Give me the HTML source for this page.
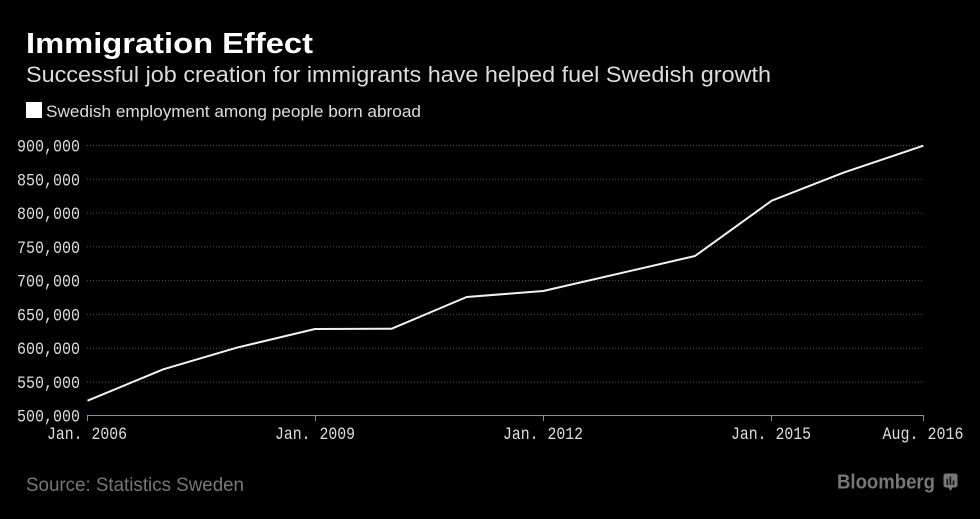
<!DOCTYPE html>
<html><head><meta charset="utf-8"><style>
html,body{margin:0;padding:0;background:#000;}
svg{display:block;}
</style></head><body>
<svg width="980" height="519" viewBox="0 0 980 519" xmlns="http://www.w3.org/2000/svg">
<rect width="980" height="519" fill="#000"/>
<text x="26" y="53" font-family="Liberation Sans, sans-serif" font-weight="bold" font-size="29" fill="#fff" textLength="287" lengthAdjust="spacingAndGlyphs">Immigration Effect</text>
<text x="26" y="82" font-family="Liberation Sans, sans-serif" font-size="22" fill="#ddd" textLength="745" lengthAdjust="spacingAndGlyphs">Successful job creation for immigrants have helped fuel Swedish growth</text>
<rect x="26" y="102" width="16" height="16" fill="#fff"/>
<text x="46" y="117" font-family="Liberation Sans, sans-serif" font-size="16.5" fill="#ddd" textLength="375" lengthAdjust="spacingAndGlyphs">Swedish employment among people born abroad</text>
<g stroke="#555" stroke-width="1" stroke-dasharray="1,2">
<line x1="87" y1="145.5" x2="923" y2="145.5"/>
<line x1="87" y1="179.3" x2="923" y2="179.3"/>
<line x1="87" y1="213.1" x2="923" y2="213.1"/>
<line x1="87" y1="246.8" x2="923" y2="246.8"/>
<line x1="87" y1="280.6" x2="923" y2="280.6"/>
<line x1="87" y1="314.4" x2="923" y2="314.4"/>
<line x1="87" y1="348.2" x2="923" y2="348.2"/>
<line x1="87" y1="382" x2="923" y2="382"/>
</g>
<g font-family="Liberation Mono, monospace" font-size="17.5" fill="#ddd" text-anchor="end">
<text x="80" y="151.5" textLength="63" lengthAdjust="spacingAndGlyphs">900,000</text>
<text x="80" y="185.3" textLength="63" lengthAdjust="spacingAndGlyphs">850,000</text>
<text x="80" y="219.1" textLength="63" lengthAdjust="spacingAndGlyphs">800,000</text>
<text x="80" y="252.8" textLength="63" lengthAdjust="spacingAndGlyphs">750,000</text>
<text x="80" y="286.6" textLength="63" lengthAdjust="spacingAndGlyphs">700,000</text>
<text x="80" y="320.4" textLength="63" lengthAdjust="spacingAndGlyphs">650,000</text>
<text x="80" y="354.2" textLength="63" lengthAdjust="spacingAndGlyphs">600,000</text>
<text x="80" y="388" textLength="63" lengthAdjust="spacingAndGlyphs">550,000</text>
<text x="80" y="421.5" textLength="63" lengthAdjust="spacingAndGlyphs">500,000</text>
</g>
<g stroke="#8a909a" stroke-width="1">
<line x1="87.5" y1="415.5" x2="923.5" y2="415.5"/>
<line x1="87.5" y1="415" x2="87.5" y2="421"/>
<line x1="315.5" y1="415" x2="315.5" y2="421"/>
<line x1="543.5" y1="415" x2="543.5" y2="421"/>
<line x1="771.5" y1="415" x2="771.5" y2="421"/>
<line x1="923.5" y1="415" x2="923.5" y2="421"/>
</g>
<g font-family="Liberation Mono, monospace" font-size="17.5" fill="#ddd" text-anchor="middle">
<text x="87" y="439" textLength="80" lengthAdjust="spacingAndGlyphs">Jan. 2006</text>
<text x="315" y="439" textLength="80" lengthAdjust="spacingAndGlyphs">Jan. 2009</text>
<text x="543" y="439" textLength="80" lengthAdjust="spacingAndGlyphs">Jan. 2012</text>
<text x="771" y="439" textLength="80" lengthAdjust="spacingAndGlyphs">Jan. 2015</text>
<text x="923" y="439" textLength="81" lengthAdjust="spacingAndGlyphs">Aug. 2016</text>
</g>
<polyline fill="none" stroke="#f2f2f2" stroke-width="2" stroke-linejoin="round"
points="87.5,400.7 163.3,369.3 236.7,347.7 315,329 391.7,328.7 466.7,297 543.3,291 695,256 771.7,200.7 843.3,172.7 923.3,145.7"/>
<text x="26" y="491" font-family="Liberation Sans, sans-serif" font-size="19" fill="#777" textLength="218" lengthAdjust="spacingAndGlyphs">Source: Statistics Sweden</text>
<text x="837" y="488.5" font-family="Liberation Sans, sans-serif" font-weight="bold" font-size="20" fill="#777" textLength="98" lengthAdjust="spacingAndGlyphs">Bloomberg</text>
<rect x="943.5" y="473.5" width="14" height="14" rx="2.5" fill="#777"/>
<polygon points="948,487 953,487 950.5,491" fill="#777"/>
<g fill="#111">
<rect x="946.5" y="479" width="1.6" height="6"/>
<rect x="949.6" y="476.5" width="1.6" height="8.5"/>
<rect x="952.7" y="480.5" width="1.6" height="4.5"/>
</g>
</svg>
</body></html>
